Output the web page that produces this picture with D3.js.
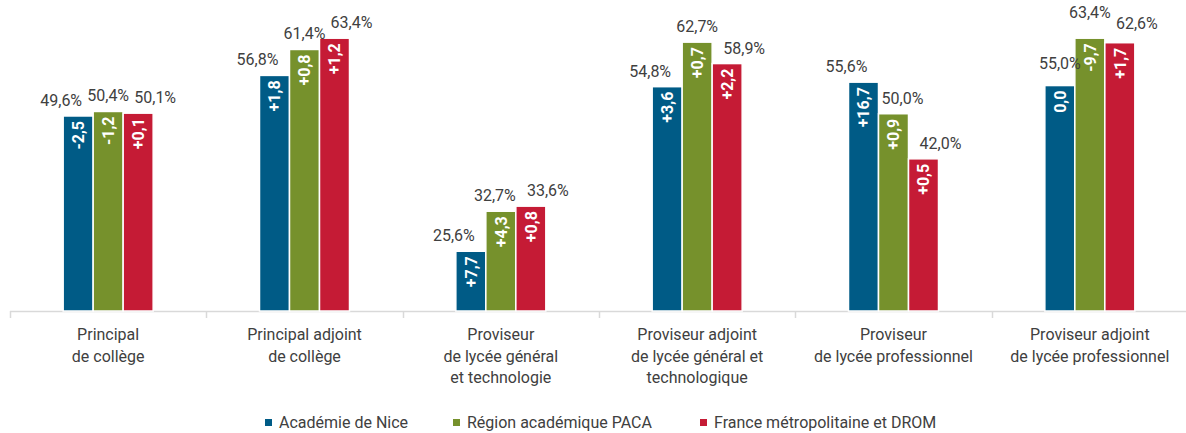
<!DOCTYPE html>
<html lang="fr">
<head>
<meta charset="utf-8">
<script src="https://cdn.jsdelivr.net/npm/d3@7"></script>
<style>
  html, body { margin: 0; padding: 0; background: #ffffff; }
  svg { display: block; font-family: Roboto, "Noto Sans", sans-serif; }
</style>
</head>
<body>
<svg id="chart" width="1186" height="433"></svg>
<script>
// Categories (each entry split into its display lines)
const categories = [
  ["Principal", "de collège"],
  ["Principal adjoint", "de collège"],
  ["Proviseur", "de lycée général", "et technologie"],
  ["Proviseur adjoint", "de lycée général et", "technologique"],
  ["Proviseur", "de lycée professionnel"],
  ["Proviseur adjoint", "de lycée professionnel"]
];

const seriesNames = ["Académie de Nice", "Région académique PACA", "France métropolitaine et DROM"];

// Share (%) per category
const niceValues   = [49.6, 56.8, 25.6, 54.8, 55.6, 55.0];
const pacaValues   = [50.4, 61.4, 32.7, 62.7, 50.0, 63.4];
const franceValues = [50.1, 63.4, 33.6, 58.9, 42.0, 62.6];

// Change in points, printed inside the bars
const niceChange   = [-2.5, 1.8, 7.7, 3.6, 16.7, 0.0];
const pacaChange   = [-1.2, 0.8, 4.3, 0.7, 0.9, -9.7];
const franceChange = [0.1, 1.2, 0.8, 2.2, 0.5, 1.7];

const colors = ["#005b86", "#76912c", "#c51b35"];

// Value-label placement: default shift per series, with a few hand-placed labels
const labelShift = [{ dx: -17, dy: -10 }, { dx: 0, dy: -10 }, { dx: 17, dy: -10 }];
const labelOverride = {
  "2-1": { dx: -6, dy: -10 },
  "4-1": { dx: 9, dy: -10 },
  "5-0": { dx: 0, dy: -17 },
  "5-1": { dx: 0, dy: -20 },
  "5-2": { dx: 17, dy: -14 }
};

const values = [niceValues, pacaValues, franceValues];
const changes = [niceChange, pacaChange, franceChange];

const rows = categories.map((c, i) => ({
  index: i,
  lines: c,
  bars: seriesNames.map((s, k) => ({ group: i, series: k, value: values[k][i], change: changes[k][i] }))
}));

const svg = d3.select("#chart");
const textColor = "#404040";

const x0 = d3.scaleBand().domain(d3.range(categories.length)).range([10, 1188]).paddingInner(0).paddingOuter(0);
const x1 = d3.scaleBand().domain(d3.range(seriesNames.length)).range([0, 90]).padding(0);
const groupOffset = (x0.bandwidth() - 90) / 2;

const y = d3.scaleLinear().domain([15, 70]).range([311, 1]);

const fmtPct = v => d3.format(".1f")(v).replace(".", ",") + "%";
const fmtChange = v => (v > 0 ? "+" : "") + d3.format(".1f")(v).replace(".", ",").replace("−", "-");

// Category axis: light baseline with separators between groups
const axisG = svg.append("g");
axisG.append("line")
  .attr("x1", 10).attr("x2", 1186)
  .attr("y1", 311.5).attr("y2", 311.5)
  .attr("stroke", "#d9d9d9").attr("stroke-width", 1.5);
axisG.selectAll("line.tick")
  .data(d3.range(categories.length + 1))
  .join("line")
  .attr("class", "tick")
  .attr("x1", d => Math.round(10 + d * x0.step()) + 0.5)
  .attr("x2", d => Math.round(10 + d * x0.step()) + 0.5)
  .attr("y1", 311).attr("y2", 318)
  .attr("stroke", "#d9d9d9").attr("stroke-width", 1.5);

// Bars
const groups = svg.append("g").selectAll("g.grp")
  .data(rows)
  .join("g")
  .attr("class", "grp")
  .attr("transform", d => `translate(${x0(d.index) + groupOffset},0)`);

groups.selectAll("rect")
  .data(d => d.bars)
  .join("rect")
  .attr("x", d => x1(d.series))
  .attr("y", d => y(d.value))
  .attr("width", x1.bandwidth())
  .attr("height", d => y(15) - y(d.value))
  .attr("fill", d => colors[d.series])
  .attr("stroke", "#ffffff")
  .attr("stroke-width", 1.5);

// Percentage labels above bars
groups.selectAll("text.val")
  .data(d => d.bars)
  .join("text")
  .attr("class", "val")
  .attr("x", d => x1(d.series) + x1.bandwidth() / 2 + (labelOverride[`${d.group}-${d.series}`] || labelShift[d.series]).dx)
  .attr("y", d => y(d.value) + (labelOverride[`${d.group}-${d.series}`] || labelShift[d.series]).dy)
  .attr("text-anchor", "middle")
  .attr("font-size", 16)
  .attr("fill", textColor)
  .text(d => fmtPct(d.value));

// Change labels inside bars, rotated
groups.selectAll("text.chg")
  .data(d => d.bars)
  .join("text")
  .attr("class", "chg")
  .attr("transform", d => `translate(${x1(d.series) + x1.bandwidth() / 2},${y(d.value) + 5}) rotate(-90)`)
  .attr("text-anchor", "end")
  .attr("dy", "0.36em")
  .attr("font-size", 16)
  .attr("font-weight", "bold")
  .attr("fill", "#ffffff")
  .text(d => fmtChange(d.change));

// Category labels
const catG = svg.append("g").selectAll("text")
  .data(rows)
  .join("text")
  .attr("x", d => x0(d.index) + x0.bandwidth() / 2)
  .attr("y", 340)
  .attr("text-anchor", "middle")
  .attr("font-size", 16)
  .attr("fill", textColor);
catG.selectAll("tspan")
  .data(d => d.lines)
  .join("tspan")
  .attr("x", function () { return d3.select(this.parentNode).attr("x"); })
  .attr("dy", (d, i) => i === 0 ? 0 : 21.5)
  .text(d => d);

// Legend
const legendX = [265, 453, 700];
const legend = svg.append("g").selectAll("g")
  .data(seriesNames)
  .join("g")
  .attr("transform", (d, i) => `translate(${legendX[i]},0)`);
legend.append("rect")
  .attr("x", 0).attr("y", 419)
  .attr("width", 7).attr("height", 7)
  .attr("fill", (d, i) => colors[i]);
legend.append("text")
  .attr("x", 14).attr("y", 428)
  .attr("font-size", 16)
  .attr("fill", textColor)
  .text(d => d);
</script>
</body>
</html>
